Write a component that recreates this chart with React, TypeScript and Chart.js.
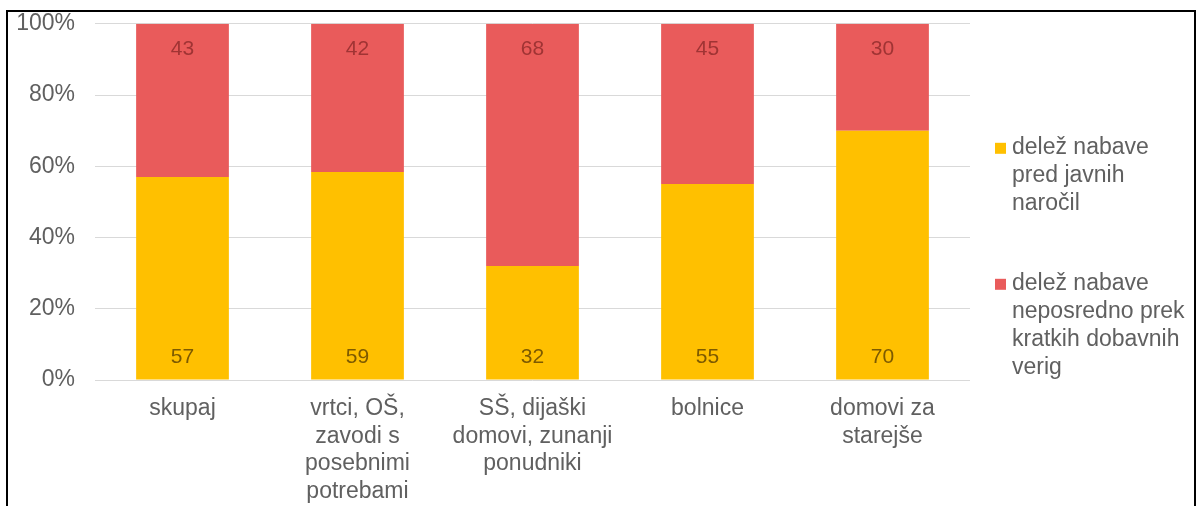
import React, { useEffect, useRef } from "react";
import { Chart, registerables } from "chart.js";

Chart.register(...registerables);

const categories: string[][] = [
  ["skupaj"],
  ["vrtci, OŠ,", "zavodi s", "posebnimi", "potrebami"],
  ["SŠ, dijaški", "domovi, zunanji", "ponudniki"],
  ["bolnice"],
  ["domovi za", "starejše"],
];
const publicShare = [57, 59, 32, 55, 70];
const directShare = [43, 42, 68, 45, 30];
const seriesNames: string[][] = [
  ["delež nabave", "pred javnih", "naročil"],
  ["delež nabave", "neposredno prek", "kratkih dobavnih", "verig"],
];
const yTickValues = [0, 20, 40, 60, 80, 100];

const COLORS = ["#FFC000", "#E95B5B"];
const LABEL_COLORS = ["#7d5a00", "#a03434"];
const TEXT = "#606060";
const FONT = "'Liberation Sans', Arial, sans-serif";

const totals = publicShare.map((v, i) => v + directShare[i]);
const pctPublic = publicShare.map((v, i) => (v / totals[i]) * 100);
const pctDirect = directShare.map((v, i) => (v / totals[i]) * 100);
const rawValues = [publicShare, directShare];

const dataLabelPlugin = {
  id: "dataLabels",
  afterDatasetsDraw(chart: any) {
    const ctx = chart.ctx;
    ctx.save();
    ctx.font = `21px ${FONT}`;
    ctx.textAlign = "center";
    ctx.textBaseline = "middle";
    chart.data.datasets.forEach((_: any, di: number) => {
      const meta = chart.getDatasetMeta(di);
      meta.data.forEach((el: any, i: number) => {
        ctx.fillStyle = LABEL_COLORS[di];
        const y = di === 0 ? el.base - 22 : el.y + 25;
        ctx.fillText(String(rawValues[di][i]), el.x, y);
      });
    });
    ctx.restore();
  },
};

const legendPlugin = {
  id: "sideLegend",
  afterDraw(chart: any) {
    const ctx = chart.ctx;
    const area = chart.chartArea;
    const sqX = area.right + 25;
    const textX = area.right + 42;
    const starts = [area.top + 124, area.top + 260];
    const step = 28;
    ctx.save();
    ctx.font = `23px ${FONT}`;
    ctx.textAlign = "left";
    ctx.textBaseline = "middle";
    seriesNames.forEach((lines, si) => {
      ctx.fillStyle = COLORS[si];
      ctx.fillRect(sqX, starts[si] - 5, 11, 11);
      ctx.fillStyle = TEXT;
      lines.forEach((line, li) => {
        ctx.fillText(line, textX, starts[si] + li * step);
      });
    });
    ctx.restore();
  },
};

export default function App() {
  const ref = useRef<HTMLCanvasElement>(null);
  useEffect(() => {
    if (!ref.current) return;
    const chart = new Chart(ref.current, {
      type: "bar",
      data: {
        labels: categories,
        datasets: [
          {
            label: seriesNames[0].join(" "),
            data: pctPublic,
            backgroundColor: COLORS[0],
            borderWidth: 0,
          },
          {
            label: seriesNames[1].join(" "),
            data: pctDirect,
            backgroundColor: COLORS[1],
            borderWidth: 0,
          },
        ],
      },
      options: {
        animation: false,
        responsive: false,
        maintainAspectRatio: false,
        layout: { padding: { top: 14, right: 231, left: 0, bottom: 0 } },
        datasets: { bar: { barPercentage: 0.53, categoryPercentage: 1 } },
        plugins: { legend: { display: false }, tooltip: { enabled: false } },
        scales: {
          x: {
            stacked: true,
            grid: { display: false, drawTicks: false },
            border: { display: false },
            ticks: {
              color: TEXT,
              font: { family: FONT, size: 23, lineHeight: 1.2 },
              padding: 15,
              maxRotation: 0,
              autoSkip: false,
            },
            afterFit: (s: any) => {
              s.height = 126;
            },
          },
          y: {
            stacked: true,
            min: 0,
            max: 100,
            afterBuildTicks: (s: any) => {
              s.ticks = yTickValues.map((v) => ({ value: v }));
            },
            grid: { color: "#d9d9d9", lineWidth: 1, drawTicks: false },
            border: { display: false },
            ticks: {
              color: TEXT,
              font: { family: FONT, size: 23 },
              padding: 20,
              callback: (v: any) => `${v}%`,
            },
            afterFit: (s: any) => {
              s.width = 95;
            },
          },
        },
      },
      plugins: [dataLabelPlugin, legendPlugin],
    });
    return () => chart.destroy();
  }, []);

  return (
    <div style={{ position: "fixed", left: 0, top: 0, width: 1201, height: 506, background: "#fff", overflow: "hidden" }}>
      <canvas ref={ref} width={1201} height={516} style={{ position: "absolute", left: 0, top: -10 }} />
      <div
        style={{
          position: "absolute",
          left: 6,
          top: 10,
          width: 1186,
          height: 600,
          borderLeft: "2px solid #000",
          borderTop: "2px solid #000",
          borderRight: "2px solid #000",
          pointerEvents: "none",
        }}
      />
    </div>
  );
}
